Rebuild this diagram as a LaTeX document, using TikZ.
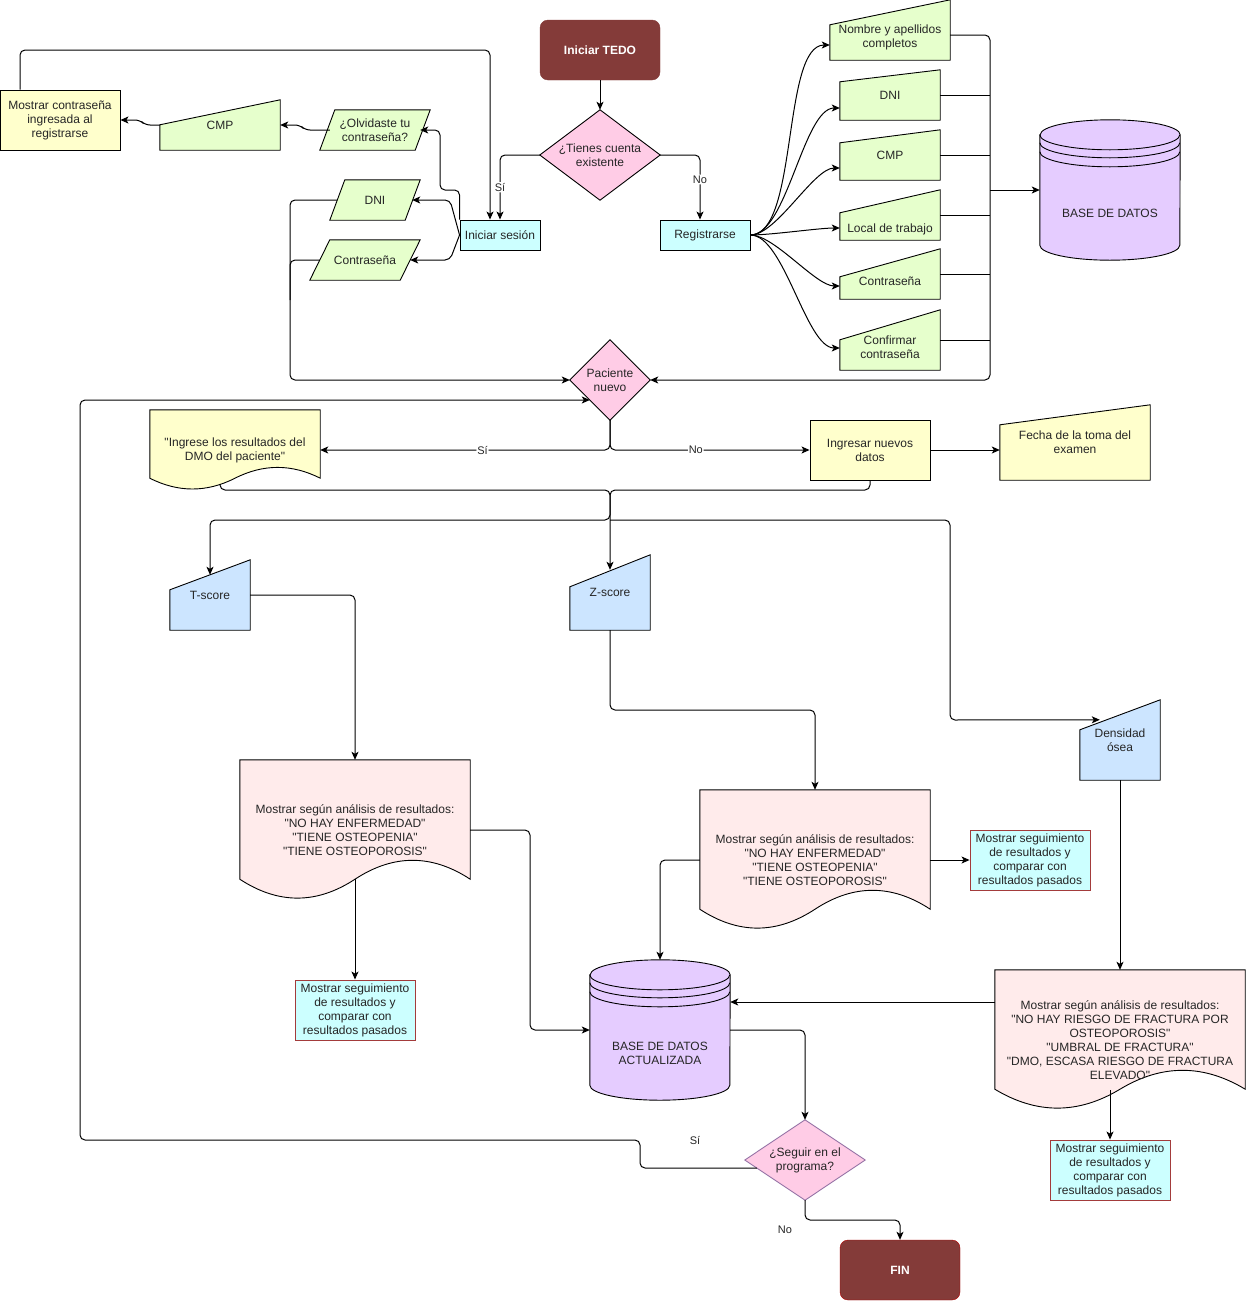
\documentclass[tikz,border=0pt]{standalone}
\usepackage{fontspec}
\setmainfont{Liberation Sans}[Ligatures=TeXOff]
\usetikzlibrary{arrows.meta,calc,backgrounds}
\definecolor{tedoflowbrown}{HTML}{843B39}
\definecolor{tedoflowfinline}{HTML}{B20000}
\definecolor{tedoflowpink}{HTML}{FFCCE6}
\definecolor{tedoflowpinkline}{HTML}{9673A6}
\definecolor{tedoflowcyan}{HTML}{CCFFFF}
\definecolor{tedoflowgreen}{HTML}{E6FFCC}
\definecolor{tedoflowyellow}{HTML}{FFFFCC}
\definecolor{tedoflowpurple}{HTML}{E5CCFF}
\definecolor{tedoflowblue}{HTML}{CCE5FF}
\definecolor{tedoflowdoc}{HTML}{FFEBEB}
\definecolor{tedoflowsegline}{HTML}{A33B3B}
\definecolor{tedoflowtext}{HTML}{262626}
\newcommand{\manin}[3]{\filldraw[#1] ([yshift=-#3pt]#2.north west) -- (#2.north east) -- (#2.south east) -- (#2.south west) -- cycle;}
\newcommand{\paral}[3]{\filldraw[#1] ([xshift=#3pt]#2.north west) -- (#2.north east) -- ([xshift=-#3pt]#2.south east) -- (#2.south west) -- cycle;}
\newcommand{\rombo}[2]{\filldraw[#1] (#2.north) -- (#2.east) -- (#2.south) -- (#2.west) -- cycle;}
\newcommand{\docum}[3]{\filldraw[#1] ([yshift=0.5*#3pt]#2.south west) -- (#2.north west) -- (#2.north east) -- ([yshift=0.5*#3pt]#2.south east)
  .. controls ($(#2.south west)!0.8333!(#2.south east)+(0pt,1.1*#3pt)$) and ($(#2.south west)!0.6667!(#2.south east)+(0pt,1.1*#3pt)$) .. ([yshift=0.5*#3pt]#2.south)
  .. controls ($(#2.south west)!0.3333!(#2.south east)+(0pt,-0.1*#3pt)$) and ($(#2.south west)!0.1667!(#2.south east)+(0pt,-0.1*#3pt)$) .. ([yshift=0.5*#3pt]#2.south west) -- cycle;}
\newcommand{\dstore}[2]{\filldraw[#1] ([yshift=-15pt]#2.north west) -- ([yshift=15pt]#2.south west)
    arc[start angle=180, end angle=360, x radius=70pt, y radius=15pt]
    -- ([yshift=-15pt]#2.north east)
    arc[start angle=0, end angle=180, x radius=70pt, y radius=15pt] -- cycle;
  \foreach \dd in {15,23,32}
    \draw[#1, fill=none] ([yshift=-\dd*1pt]#2.north west) arc[start angle=180, end angle=360, x radius=70pt, y radius=15pt];}
\tikzset{
  base/.style={inner sep=0pt, align=center},
  sz/.style 2 args={minimum width=#1pt, minimum height=#2pt},
  proc/.style={base, draw=black, line width=0.9pt},
  shp/.style={draw=black, line width=0.9pt},
  seg/.style={proc, sz={120}{60}, fill=tedoflowcyan, draw=tedoflowsegline},
  term/.style={base, sz={120}{60}, rounded corners=8pt, fill=tedoflowbrown, text=white, font=\fontsize{12}{14}\selectfont\bfseries},
  ln/.style={line width=1pt, rounded corners=5pt},
  arr/.style={ln, -{Stealth[length=8pt,width=7pt,inset=2pt]}},
  lbl/.style={font=\fontsize{11}{13}\selectfont, fill=white, inner sep=1pt},
}
\begin{document}
\begin{tikzpicture}[x=1pt, y=-1pt, font=\fontsize{12}{14}\selectfont, text=tedoflowtext]
\useasboundingbox (0,0) rectangle (1246,1301);

\node[term, draw=tedoflowbrown] (tedo) at (600,50) {Iniciar TEDO};
\node[base, sz={120}{90}] (cuenta) at (600,155) {¿Tienes cuenta\\existente};
\node[proc, sz={80}{30}, fill=tedoflowcyan] (sesion) at (500,235) {Iniciar sesión};
\node[proc, sz={90}{30}, fill=tedoflowcyan] (reg) at (705,235) {Registrarse};
\node[base, sz={110}{40}] (olvido) at (375,130) {¿Olvidaste tu\\contraseña?};
\node[base, sz={120}{50}] (cmpl) at (220,125) {CMP};
\node[proc, sz={120}{60}, fill=tedoflowyellow] (mostrarc) at (60,120) {Mostrar contraseña\\ingresada al\\registrarse};
\node[base, sz={90}{40}] (dnil) at (375,200) {DNI};
\node[base, sz={110}{40}] (contl) at (365,260) {Contraseña};

\node[base, sz={120}{60}, label={[align=center,yshift=-7pt]center:Nombre y apellidos\\completos}] (rnom) at (890,30) {};
\node[base, sz={100}{50}] (rdni) at (890,95) {DNI};
\node[base, sz={100}{50}] (rcmp) at (890,155) {CMP};
\node[base, sz={100}{50}, label={[yshift=-14pt]center:Local de trabajo}] (rloc) at (890,215) {};
\node[base, sz={100}{50}, label={[yshift=-7pt]center:Contraseña}] (rcon) at (890,274) {};
\node[base, sz={100}{60}, label={[align=center,yshift=-7pt]center:Confirmar\\contraseña}] (rconf) at (890,340) {};
\node[base, sz={140}{140}, label={[yshift=-23pt]center:BASE DE DATOS}] (db1) at (1110,190) {};

\node[base, sz={80}{80}] (pac) at (610,380) {Paciente\\nuevo};
\node[base, sz={170}{80}] (ingrese) at (235,450) {"Ingrese los resultados del\\DMO del paciente"};
\node[proc, sz={120}{60}, fill=tedoflowyellow] (nuevos) at (870,450) {Ingresar nuevos\\datos};
\node[base, sz={150}{75}] (fecha) at (1075,442.5) {Fecha de la toma del\\examen};
\node[base, sz={80}{70}] (tscore) at (210,595) {T-score};
\node[base, sz={80}{75}] (zscore) at (610,592.5) {Z-score};
\node[base, sz={80}{80}] (dens) at (1120,740) {Densidad\\ósea};

\node[base, sz={230}{140}] (doc1) at (355,830) {Mostrar según análisis de resultados:\\"NO HAY ENFERMEDAD"\\"TIENE OSTEOPENIA"\\"TIENE OSTEOPOROSIS"};
\node[seg] (seg1) at (355,1010) {Mostrar seguimiento\\de resultados y\\comparar con\\resultados pasados};
\node[base, sz={230}{140}] (doc2) at (815,860) {Mostrar según análisis de resultados:\\"NO HAY ENFERMEDAD"\\"TIENE OSTEOPENIA"\\"TIENE OSTEOPOROSIS"};
\node[seg] (seg2) at (1030,860) {Mostrar seguimiento\\de resultados y\\comparar con\\resultados pasados};
\node[base, sz={140}{140}, label={[align=center,yshift=-23pt]center:BASE DE DATOS\\ACTUALIZADA}] (db2) at (660,1030) {};
\node[base, sz={250}{140}] (doc3) at (1120,1040) {Mostrar según análisis de resultados:\\"NO HAY RIESGO DE FRACTURA POR\\OSTEOPOROSIS"\\"UMBRAL DE FRACTURA"\\"DMO, ESCASA RIESGO DE FRACTURA\\ELEVADO"};
\node[seg] (seg3) at (1110,1170) {Mostrar seguimiento\\de resultados y\\comparar con\\resultados pasados};
\node[base, sz={120}{80}] (seguir) at (805,1160) {¿Seguir en el\\programa?};
\node[term, draw=tedoflowfinline] (fin) at (900,1270) {FIN};

\begin{scope}[on background layer]
\rombo{shp, fill=tedoflowpink}{cuenta}
\paral{shp, fill=tedoflowgreen}{olvido}{15}
\manin{shp, fill=tedoflowgreen}{cmpl}{25}
\paral{shp, fill=tedoflowgreen}{dnil}{15}
\paral{shp, fill=tedoflowgreen}{contl}{20}
\manin{shp, fill=tedoflowgreen}{rnom}{25}
\manin{shp, fill=tedoflowgreen}{rdni}{12}
\manin{shp, fill=tedoflowgreen}{rcmp}{13}
\manin{shp, fill=tedoflowgreen}{rloc}{23}
\manin{shp, fill=tedoflowgreen}{rcon}{28}
\manin{shp, fill=tedoflowgreen}{rconf}{30}
\dstore{shp, fill=tedoflowpurple}{db1}
\rombo{shp, fill=tedoflowpink}{pac}
\docum{shp, fill=tedoflowyellow}{ingrese}{24}
\manin{shp, fill=tedoflowyellow}{fecha}{20}
\manin{shp, fill=tedoflowblue}{tscore}{30}
\manin{shp, fill=tedoflowblue}{zscore}{32}
\manin{shp, fill=tedoflowblue}{dens}{30}
\docum{shp, fill=tedoflowdoc}{doc1}{42}
\docum{shp, fill=tedoflowdoc}{doc2}{42}
\dstore{shp, fill=tedoflowpurple}{db2}
\docum{shp, fill=tedoflowdoc}{doc3}{42}
\rombo{shp, fill=tedoflowpink, draw=tedoflowpinkline}{seguir}
\end{scope}

\draw[arr] (tedo.south) -- (cuenta.north);
\draw[arr] (cuenta.west) -| (sesion.north) node[lbl, pos=0.75] {Sí};
\draw[arr] (cuenta.east) -| ([xshift=-5pt]reg.north) node[lbl, pos=0.69] {No};
\draw[arr] ([xshift=-40pt]mostrarc.north) |- (490,50) -- ([xshift=-10pt]sesion.north);
\draw[arr] (sesion.north west) |- (440,190) |- ([xshift=-10pt]olvido.east);
\draw[arr] (sesion.west) -- (450,200) -- ([xshift=-8pt]dnil.east);
\draw[arr] (sesion.west) -- (450,260) -- ([xshift=-10pt]contl.east);
\draw[arr] ([xshift=10pt]olvido.west) -- (305,130) -- (300,125) -- (cmpl.east);
\draw[arr] (cmpl.west) -- (145,125) -- (140,120) -- (mostrarc.east);
\draw[arr] ([xshift=7pt]dnil.west) -| (290,380) -- (pac.west);
\draw[ln] ([xshift=10pt]contl.west) -| (290,300);

\foreach \t/\dy in {rnom/15, rdni/13, rcmp/13, rloc/13, rcon/12, rconf/8}
  \draw[arr] (reg.east) to[out=0, in=180, looseness=0.6] ([yshift=-\dy*1pt]\t.west);
\draw[arr] ([yshift=-5pt]rnom.east) -| (990,380) -- (pac.east);
\foreach \t in {rdni, rcmp, rloc, rcon, rconf}
  \draw[ln] (\t.east) -- +(50,0);
\coordinate (bus) at (990,190);
\draw[arr] (bus) -- (db1.west);

\draw[arr] (pac.south) |- (ingrese.east) node[lbl, pos=0.72] {Sí};
\draw[arr] (pac.south) |- (nuevos.west) node[lbl, pos=0.715] {No};
\draw[arr] (nuevos.east) -- (nuevos.east -| fecha.west);
\coordinate (merge) at (610,490);
\coordinate (split) at (610,520);
\draw[arr] ([xshift=-15pt,yshift=6pt]ingrese.south) |- (merge) -- (split) -| ([yshift=-15pt]tscore.north);
\draw[arr] (nuevos.south) |- (merge) -- ([yshift=-15pt]zscore.north);
\draw[arr] (split) -| (950,720) -- ([xshift=20pt,yshift=-20pt]dens.north west);

\draw[arr] (tscore.east) -| (doc1.north);
\draw[arr] ([yshift=21pt]doc1.south) -- (seg1.north);
\draw[arr] (doc1.east) -- (530,830) |- (db2.west);
\draw[arr] (zscore.south) |- (815,710) -- (doc2.north);
\draw[arr] (doc2.east) -- (seg2.west);
\draw[arr] (doc2.west) -| (db2.north);
\draw[arr] (dens.south) -- (doc3.north);
\draw[arr] ([yshift=38pt]doc3.west) -- ([yshift=28pt]db2.east);
\draw[arr] ([xshift=-10pt,yshift=20pt]doc3.south) -- (seg3.north);
\draw[arr] (db2.east) -| (seguir.north);
\draw[arr] ([xshift=12pt,yshift=-8pt]seguir.west) -- (640,1168) -- (640,1140) -- (80,1140) -- (80,400) -- ([xshift=20pt,yshift=-20pt]pac.west);
\node[lbl] (lsi) at (695,1140) {Sí};
\draw[arr] (seguir.south) -- (805,1220) -| (fin.north);
\node[lbl] (lno) at (785,1230) {No};
\end{tikzpicture}
\end{document}
